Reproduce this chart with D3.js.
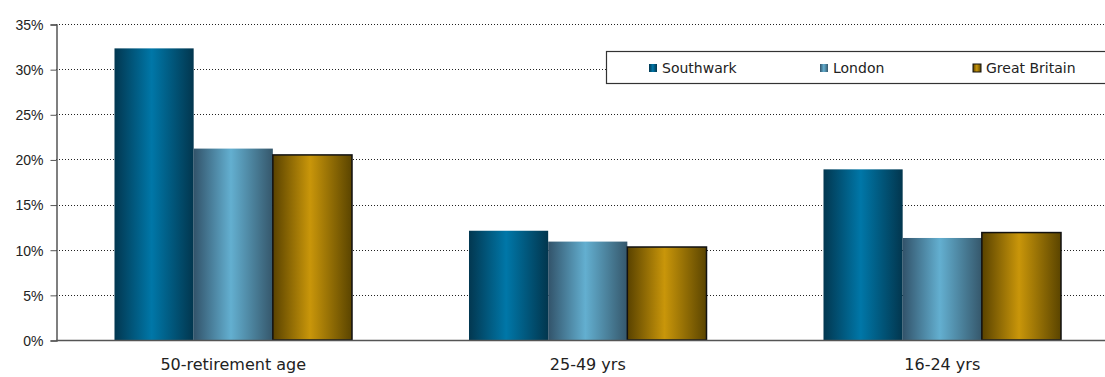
<!DOCTYPE html>
<html>
<head>
<meta charset="utf-8">
<script src="https://cdn.jsdelivr.net/npm/d3@7"></script>
<style>
  html, body { margin: 0; padding: 0; background: #fff; }
  svg { display: block; font-family: "DejaVu Sans", sans-serif; }
</style>
</head>
<body>
<svg id="chart" width="1105" height="377"></svg>
<script>
// Share of people in each age group (percent)
const categories = ["50-retirement age", "25-49 yrs", "16-24 yrs"];
const seriesNames = ["Southwark", "London", "Great Britain"];
const southwark = [32.3, 12.1, 18.9];
const london = [21.2, 10.9, 11.3];
const greatBritain = [20.5, 10.3, 11.9];
const yTicks = [0, 5, 10, 15, 20, 25, 30, 35];

const seriesValues = [southwark, london, greatBritain];

const svg = d3.select("#chart");
const margin = { left: 56, top: 24, bottom: 340 };
const plotRight = 1119.5;

const x0 = d3.scaleBand().domain(categories).range([margin.left, plotRight]).paddingInner(0.33).paddingOuter(0.165);
const x1 = d3.scaleBand().domain(seriesNames).range([0, x0.bandwidth()]).padding(0);
const y = d3.scaleLinear().domain([0, 35]).range([margin.bottom, margin.top]);

// Cylinder-like horizontal gradients for each series
const gradStops = {
  "Southwark": ["#023750", "#0077a8", "#02364e"],
  "London": ["#32536a", "#63afd0", "#35576b"],
  "Great Britain": ["#594200", "#c9960a", "#5a4400"]
};
const defs = svg.append("defs");
seriesNames.forEach((name, i) => {
  const g = defs.append("linearGradient").attr("id", "grad" + i)
    .attr("x1", "0%").attr("x2", "100%").attr("y1", "0%").attr("y2", "0%");
  const c = gradStops[name];
  g.append("stop").attr("offset", "0%").attr("stop-color", c[0]);
  g.append("stop").attr("offset", "47%").attr("stop-color", c[1]);
  g.append("stop").attr("offset", "100%").attr("stop-color", c[2]);
});

// Dotted gridlines
svg.append("g").selectAll("line").data(yTicks.filter(t => t > 0)).join("line")
  .attr("x1", margin.left).attr("x2", plotRight)
  .attr("y1", d => Math.round(y(d)) + 0.5).attr("y2", d => Math.round(y(d)) + 0.5)
  .attr("stroke", "#222").attr("stroke-width", 1).attr("stroke-dasharray", "1,2");

// Y axis
const yAxis = d3.axisLeft(y).tickValues(yTicks).tickFormat(d => d + "%").tickSize(6).tickPadding(7);
const yg = svg.append("g").attr("transform", `translate(${margin.left + 0.5},0.5)`).call(yAxis);
yg.select(".domain").attr("stroke", "#555").attr("stroke-width", 1.5);
yg.selectAll(".tick line").attr("stroke", "#555");
yg.selectAll(".tick text").attr("fill", "#222").style("font-size", "14px").attr("dy", "0.35em");

// Bars
const groups = svg.append("g").selectAll("g").data(categories).join("g")
  .attr("transform", d => `translate(${x0(d)},0)`);
groups.selectAll("rect").data((c, ci) => seriesNames.map((s, si) => ({ s, si, v: seriesValues[si][ci] })))
  .join("rect")
  .attr("x", d => x1(d.s))
  .attr("y", d => y(d.v))
  .attr("width", x1.bandwidth())
  .attr("height", d => y(0) - y(d.v))
  .attr("fill", d => `url(#grad${d.si})`)
  .attr("stroke", d => d.si === 2 ? "#111" : "none")
  .attr("stroke-width", 1.5);

// X axis baseline
svg.append("line").attr("x1", margin.left).attr("x2", plotRight)
  .attr("y1", margin.bottom + 0.5).attr("y2", margin.bottom + 0.5)
  .attr("stroke", "#555").attr("stroke-width", 1.5);

// Category labels
svg.append("g").selectAll("text").data(categories).join("text")
  .attr("x", d => x0(d) + x0.bandwidth() / 2)
  .attr("y", 370)
  .attr("text-anchor", "middle")
  .attr("fill", "#222")
  .style("font-size", "16px")
  .text(d => d);

// Legend
const legend = svg.append("g");
legend.append("rect").attr("x", 606.5).attr("y", 51.5).attr("width", 520).attr("height", 32)
  .attr("fill", "#fff").attr("stroke", "#333").attr("stroke-width", 1.2);
const legendX = [649, 820, 973];
seriesNames.forEach((name, i) => {
  legend.append("rect").attr("x", legendX[i]).attr("y", 64).attr("width", 8).attr("height", 8)
    .attr("fill", `url(#grad${i})`).attr("stroke", i === 2 ? "#111" : "none").attr("stroke-width", 1);
  legend.append("text").attr("x", legendX[i] + 13).attr("y", 73)
    .attr("fill", "#222").style("font-size", "14px").text(name);
});
</script>
</body>
</html>
